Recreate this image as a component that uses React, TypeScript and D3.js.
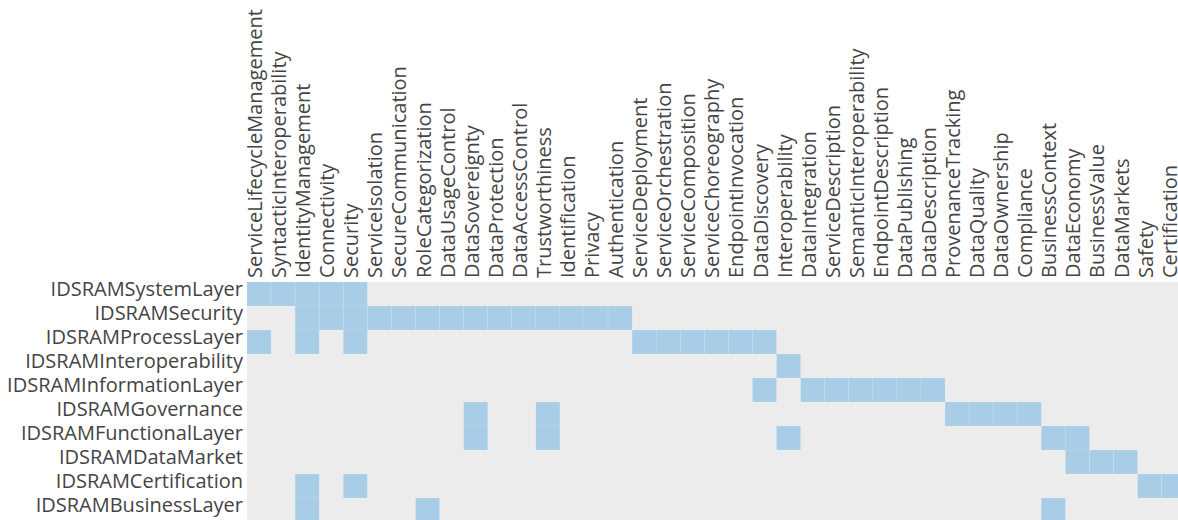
import React, { useRef, useEffect } from 'react';
import * as d3 from 'd3';

const rows = [
  'IDSRAMSystemLayer',
  'IDSRAMSecurity',
  'IDSRAMProcessLayer',
  'IDSRAMInteroperability',
  'IDSRAMInformationLayer',
  'IDSRAMGovernance',
  'IDSRAMFunctionalLayer',
  'IDSRAMDataMarket',
  'IDSRAMCertification',
  'IDSRAMBusinessLayer'
];

const columns = [
  'ServiceLifecycleManagement', 'SyntacticInteroperability', 'IdentityManagement', 'Connectivity',
  'Security', 'ServiceIsolation', 'SecureCommunication', 'RoleCategorization', 'DataUsageControl',
  'DataSovereignty', 'DataProtection', 'DataAccessControl', 'Trustworthiness', 'Identification',
  'Privacy', 'Authentication', 'ServiceDeployment', 'ServiceOrchestration', 'ServiceComposition',
  'ServiceChoreography', 'EndpointInvocation', 'DataDiscovery', 'Interoperability', 'DataIntegration',
  'ServiceDescription', 'SemanticInteroperability', 'EndpointDescription', 'DataPublishing',
  'DataDescription', 'ProvenanceTracking', 'DataQuality', 'DataOwnership', 'Compliance',
  'BusinessContext', 'DataEconomy', 'BusinessValue', 'DataMarkets', 'Safety', 'Certification'
];

// which concepts each layer links to
const systemLayer = ['ServiceLifecycleManagement', 'SyntacticInteroperability', 'IdentityManagement', 'Connectivity', 'Security'];
const security = ['IdentityManagement', 'Connectivity', 'Security', 'ServiceIsolation', 'SecureCommunication',
  'RoleCategorization', 'DataUsageControl', 'DataSovereignty', 'DataProtection', 'DataAccessControl',
  'Trustworthiness', 'Identification', 'Privacy', 'Authentication'];
const processLayer = ['ServiceLifecycleManagement', 'IdentityManagement', 'Security', 'ServiceDeployment',
  'ServiceOrchestration', 'ServiceComposition', 'ServiceChoreography', 'EndpointInvocation', 'DataDiscovery'];
const interoperability = ['Interoperability'];
const informationLayer = ['DataDiscovery', 'DataIntegration', 'ServiceDescription', 'SemanticInteroperability',
  'EndpointDescription', 'DataPublishing', 'DataDescription'];
const governance = ['DataSovereignty', 'Trustworthiness', 'ProvenanceTracking', 'DataQuality', 'DataOwnership', 'Compliance'];
const functionalLayer = ['DataSovereignty', 'Trustworthiness', 'Interoperability', 'BusinessContext', 'DataEconomy'];
const dataMarket = ['DataEconomy', 'BusinessValue', 'DataMarkets'];
const certification = ['IdentityManagement', 'Security', 'Safety', 'Certification'];
const businessLayer = ['IdentityManagement', 'RoleCategorization', 'BusinessContext'];

const links = [systemLayer, security, processLayer, interoperability, informationLayer,
  governance, functionalLayer, dataMarket, certification, businessLayer];

const width = 1178;
const height = 520;

const App: React.FC = () => {
  const svgRef = useRef<SVGSVGElement>(null);

  useEffect(() => {
    if (!svgRef.current) return;
    document.body.style.margin = '0';

    const svg = d3.select(svgRef.current);
    svg.selectAll('*').remove();

    const left = 247;
    const top = 282;
    const cellW = 24.07;
    const cellH = 24;

    const xScale = d3.scaleBand()
      .domain(columns)
      .range([left, left + columns.length * cellW]);

    const yScale = d3.scaleBand()
      .domain(rows)
      .range([top, top + rows.length * cellH]);

    const font = '"Open Sans", sans-serif';

    // background
    svg.append('rect')
      .attr('x', left)
      .attr('y', top)
      .attr('width', columns.length * cellW)
      .attr('height', rows.length * cellH)
      .style('fill', '#ececec');

    // filled cells
    const cells = links.flatMap((cols, i) => cols.map(c => ({ row: rows[i], col: c })));
    svg.append('g')
      .selectAll('rect')
      .data(cells)
      .join('rect')
      .attr('x', d => xScale(d.col)!)
      .attr('y', d => yScale(d.row)!)
      .attr('width', xScale.bandwidth())
      .attr('height', yScale.bandwidth())
      .style('fill', '#a9cde7')
      .style('stroke', '#ffffff')
      .style('stroke-opacity', 0.15)
      .style('stroke-width', 0.8);

    // row labels
    svg.append('g')
      .selectAll('text')
      .data(rows)
      .join('text')
      .attr('x', left - 4)
      .attr('y', d => yScale(d)! + yScale.bandwidth() / 2)
      .attr('dy', '0.1em')
      .attr('text-anchor', 'end')
      .style('font-family', font)
      .style('font-size', '20px')
      .style('fill', '#444')
      .text(d => d);

    // column labels
    svg.append('g')
      .selectAll('text')
      .data(columns)
      .join('text')
      .attr('transform', d => `translate(${xScale(d)! + xScale.bandwidth() / 2},${top - 4}) rotate(-90)`)
      .attr('dy', '0.15em')
      .attr('text-anchor', 'start')
      .style('font-family', font)
      .style('font-size', '20px')
      .style('fill', '#444')
      .text(d => d);
  }, []);

  return (
    <svg ref={svgRef} width={width} height={height} style={{ display: 'block', background: 'white' }} />
  );
};

export default App;
